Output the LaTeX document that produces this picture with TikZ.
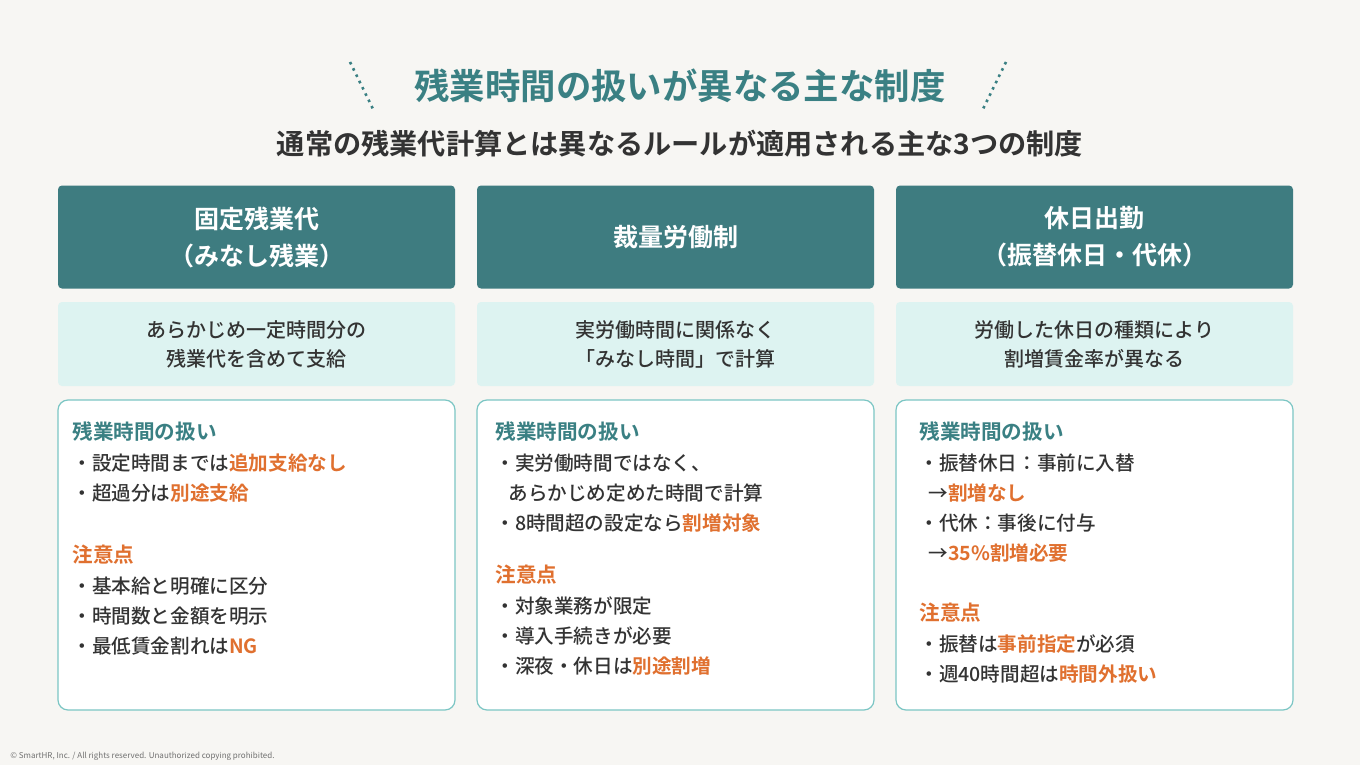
\documentclass[tikz,border=0pt]{standalone}
\usepackage{fontspec}
\setmainfont{Noto Sans CJK JP Medium}
\newfontfamily\cjkbold{Noto Sans CJK JP Bold}
\newfontfamily\cjkplain{Noto Sans CJK JP}
\usetikzlibrary{positioning}
\definecolor{bgpaper}{HTML}{F7F6F3}
\definecolor{teal}{HTML}{3E7C80}
\definecolor{tealtxt}{HTML}{3A8083}
\definecolor{lightcyan}{HTML}{DDF3F1}
\definecolor{boxline}{HTML}{7CC6C4}
\definecolor{accent}{HTML}{E0702F}
\definecolor{ink}{HTML}{333333}
\newcommand\hl[1]{\textcolor{accent}{\cjkbold #1}}
\tikzset{
  headbox/.style={fill=teal,rounded corners=2pt,minimum width=198.5pt,minimum height=51.5pt,text=white,font=\cjkbold\fontsize{12.5}{18.5}\selectfont,align=center},
  descbox/.style={fill=lightcyan,rounded corners=2pt,minimum width=198.5pt,minimum height=42pt,text=ink,font=\fontsize{10}{14.5}\selectfont,align=center},
  bodybox/.style={fill=white,draw=boxline,line width=0.6pt,rounded corners=5pt,minimum width=198.5pt,minimum height=155pt},
  heading/.style={anchor=west,text=tealtxt,font=\cjkbold\fontsize{10.3}{12}\selectfont,inner sep=0pt},
  caution/.style={anchor=west,text=accent,font=\cjkbold\fontsize{10.3}{12}\selectfont,inner sep=0pt},
  item/.style={anchor=west,text=ink,font=\fontsize{9.8}{12}\selectfont,inner sep=0pt},
}
\begin{document}
\begin{tikzpicture}[x=0.5pt,y=-0.5pt]
\useasboundingbox (0,0) rectangle (1360,765);
\fill[bgpaper] (0,0) rectangle (1360,765);
% title
\node[text=tealtxt,font=\cjkbold\fontsize{17.7}{20}\selectfont] (title) at (680,86) {残業時間の扱いが異なる主な制度};
\draw[tealtxt,line width=1.3pt,dash pattern=on 1.3pt off 2.2pt] (350,62) -- (373,109);
\draw[tealtxt,line width=1.3pt,dash pattern=on 1.3pt off 2.2pt] (1006,62) -- (983,109);
\node[text=ink,font=\cjkbold\fontsize{14.1}{16}\selectfont] (subtitle) at (680,144) {通常の残業代計算とは異なるルールが適用される主な3つの制度};
% columns
\foreach \cx/\nm/\head/\desc in {
  256.5/fixed/{固定残業代\\（みなし残業）}/{あらかじめ一定時間分の\\残業代を含めて支給},
  675.5/discr/{裁量労働制}/{実労働時間に関係なく\\「みなし時間」で計算},
  1094.5/holi/{休日出勤\\（振替休日・代休）}/{労働した休日の種類により\\割増賃金率が異なる}}{
  \node[headbox] (\nm-head) at (\cx,237) {\head};
  \node[descbox] (\nm-desc) at (\cx,344) {\desc};
  \node[bodybox] (\nm-body) at (\cx,555) {};
}
% column 1
\node[heading] (f1) at (72,432) {残業時間の扱い};
\node[item] at (72,463) {・設定時間までは\hl{追加支給なし}};
\node[item] at (72,493) {・超過分は\hl{別途支給}};
\node[caution] (f2) at (72,555) {注意点};
\node[item] at (72,586) {・基本給と明確に区分};
\node[item] at (72,616) {・時間数と金額を明示};
\node[item] at (72,646) {・最低賃金割れは\hl{NG}};
% column 2
\node[heading] (d1) at (495,432) {残業時間の扱い};
\node[item] at (495,463) {・実労働時間ではなく、};
\node[item] at (508,493) {あらかじめ定めた時間で計算};
\node[item] at (495,523) {・8時間超の設定なら\hl{割増対象}};
\node[caution] (d2) at (495,575) {注意点};
\node[item] at (495,606) {・対象業務が限定};
\node[item] at (495,636) {・導入手続きが必要};
\node[item] at (495,666) {・深夜・休日は\hl{別途割増}};
% column 3
\node[heading] (h1) at (919,432) {残業時間の扱い};
\node[item] at (919,463) {・振替休日：事前に入替};
\node[item] at (928,493) {→\hl{割増なし}};
\node[item] at (919,523) {・代休：事後に付与};
\node[item] at (928,553) {→\hl{35\%割増必要}};
\node[caution] (h2) at (919,613) {注意点};
\node[item] at (919,644) {・振替は\hl{事前指定}が必須};
\node[item] at (919,674) {・週40時間超は\hl{時間外扱い}};
% footer
\node[anchor=west,text=ink!70,font=\cjkplain\fontsize{4}{5}\selectfont,inner sep=0pt] (copy) at (10,756) {© SmartHR, Inc. / All rights reserved. Unauthorized copying prohibited.};
\end{tikzpicture}
\end{document}
